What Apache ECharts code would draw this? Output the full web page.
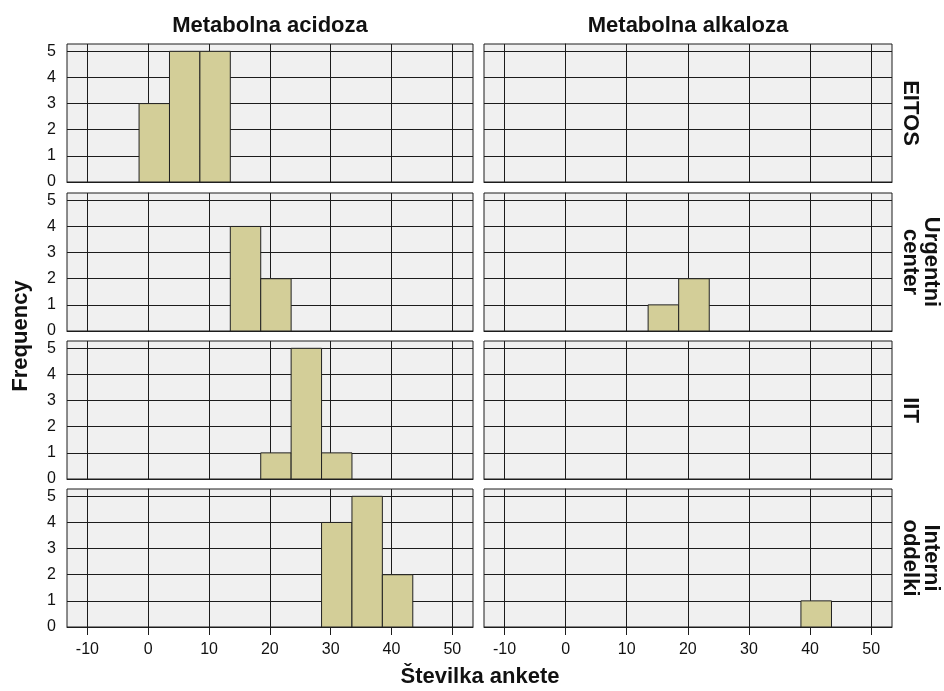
<!DOCTYPE html>
<html><head><meta charset="utf-8">
<script src="https://cdn.jsdelivr.net/npm/echarts@6/dist/echarts.min.js"></script>
<style>html,body{margin:0;padding:0;background:#fff}#c{width:944px;height:691px}</style>
</head><body><div id="c"></div>
<script>
// ---- data ----
const colCategories = ['Metabolna acidoza', 'Metabolna alkaloza'];
const rowCategories = ['EITOS', 'Urgentni\ncenter', 'IIT', 'Interni\noddelki'];
const binLow  = [-1.5, 3.5, 8.5, 13.5, 18.5, 23.5, 28.5, 33.5, 38.5];
const binHigh = [3.5, 8.5, 13.5, 18.5, 23.5, 28.5, 33.5, 38.5, 43.5];
const acidEITOS     = [3, 5, 5, 0, 0, 0, 0, 0, 0];
const acidUrgentni  = [0, 0, 0, 4, 2, 0, 0, 0, 0];
const acidIIT       = [0, 0, 0, 0, 1, 5, 1, 0, 0];
const acidInterni   = [0, 0, 0, 0, 0, 0, 4, 5, 2];
const alkEITOS      = [0, 0, 0, 0, 0, 0, 0, 0, 0];
const alkUrgentni   = [0, 0, 0, 1, 2, 0, 0, 0, 0];
const alkIIT        = [0, 0, 0, 0, 0, 0, 0, 0, 0];
const alkInterni    = [0, 0, 0, 0, 0, 0, 0, 0, 1];
const xTicks = [-10, 0, 10, 20, 30, 40, 50];
const yTicks = [0, 1, 2, 3, 4, 5];
const xTitle = 'Številka ankete';
const yTitle = 'Frequency';

const facetCounts = [
  [acidEITOS, alkEITOS],
  [acidUrgentni, alkUrgentni],
  [acidIIT, alkIIT],
  [acidInterni, alkInterni]
];

// ---- layout ----
const colLeft = [67, 484];
const colWidth = [406, 408];
const rowTop = [44, 193, 341, 489];
const rowHeight = 138;
const lineCol = '#1c1c1c';
const labelFont = '"Liberation Sans", Arial, sans-serif';

const grids = [], xAxes = [], yAxes = [], series = [];
for (let r = 0; r < 4; r++) {
  for (let c = 0; c < 2; c++) {
    const idx = grids.length;
    const isBottom = r === 3, isLeft = c === 0;
    grids.push({
      left: colLeft[c], top: rowTop[r], width: colWidth[c], height: rowHeight,
      show: true, backgroundColor: '#f0f0f0', borderColor: lineCol, borderWidth: 1
    });
    xAxes.push({
      type: 'value', gridIndex: idx, min: -13.35, max: 53.4,
      axisLine: { show: true, lineStyle: { color: lineCol, width: 1 } },
      axisTick: { show: isBottom, customValues: xTicks, length: 8, lineStyle: { color: lineCol } },
      axisLabel: { show: isBottom, customValues: xTicks, color: '#111', fontSize: 16, fontFamily: labelFont, margin: 15 },
      splitLine: { show: true, lineStyle: { color: lineCol, width: 1 } }
    });
    yAxes.push({
      type: 'value', gridIndex: idx, min: 0, max: 5.28,
      axisLine: { show: true, lineStyle: { color: lineCol, width: 1 } },
      axisTick: { show: isLeft, customValues: yTicks, length: 9, lineStyle: { color: lineCol } },
      axisLabel: { show: isLeft, customValues: yTicks, color: '#111', fontSize: 16, fontFamily: labelFont, margin: 11 },
      splitLine: { show: true, lineStyle: { color: lineCol, width: 1 } }
    });
    const counts = facetCounts[r][c];
    const data = [];
    for (let i = 0; i < counts.length; i++) {
      if (counts[i] > 0) data.push([binLow[i], binHigh[i], counts[i]]);
    }
    series.push({
      type: 'custom', xAxisIndex: idx, yAxisIndex: idx,
      encode: { x: [0, 1], y: 2 },
      data: data,
      renderItem: function (params, api) {
        const p0 = api.coord([api.value(0), api.value(2)]);
        const p1 = api.coord([api.value(1), 0]);
        return {
          type: 'rect',
          shape: { x: p0[0], y: p0[1], width: p1[0] - p0[0], height: p1[1] - p0[1] },
          style: { fill: '#d3ce98', stroke: '#222', lineWidth: 1 }
        };
      }
    });
  }
}

const boldFont = 'bold 22px "Liberation Sans", Arial, sans-serif';
const graphics = [];
for (let c = 0; c < 2; c++) {
  graphics.push({
    type: 'text', x: colLeft[c] + colWidth[c] / 2, y: 26,
    style: { text: colCategories[c], font: boldFont, fill: '#111', align: 'center', verticalAlign: 'middle' }
  });
}
for (let r = 0; r < 4; r++) {
  graphics.push({
    type: 'text', x: 900, y: rowTop[r] + rowHeight / 2, rotation: -Math.PI / 2,
    style: { text: rowCategories[r], font: boldFont, fill: '#111', align: 'center', verticalAlign: 'bottom', lineHeight: 21 }
  });
}
graphics.push({
  type: 'text', x: 21, y: 336, rotation: Math.PI / 2,
  style: { text: yTitle, font: boldFont, fill: '#111', align: 'center', verticalAlign: 'middle' }
});
graphics.push({
  type: 'text', x: 480, y: 677,
  style: { text: xTitle, font: boldFont, fill: '#111', align: 'center', verticalAlign: 'middle' }
});

const chart = echarts.init(document.getElementById('c'), null, { renderer: 'canvas' });
chart.setOption({
  animation: false,
  backgroundColor: '#ffffff',
  grid: grids, xAxis: xAxes, yAxis: yAxes, series: series,
  graphic: graphics
});
</script>
</body></html>
